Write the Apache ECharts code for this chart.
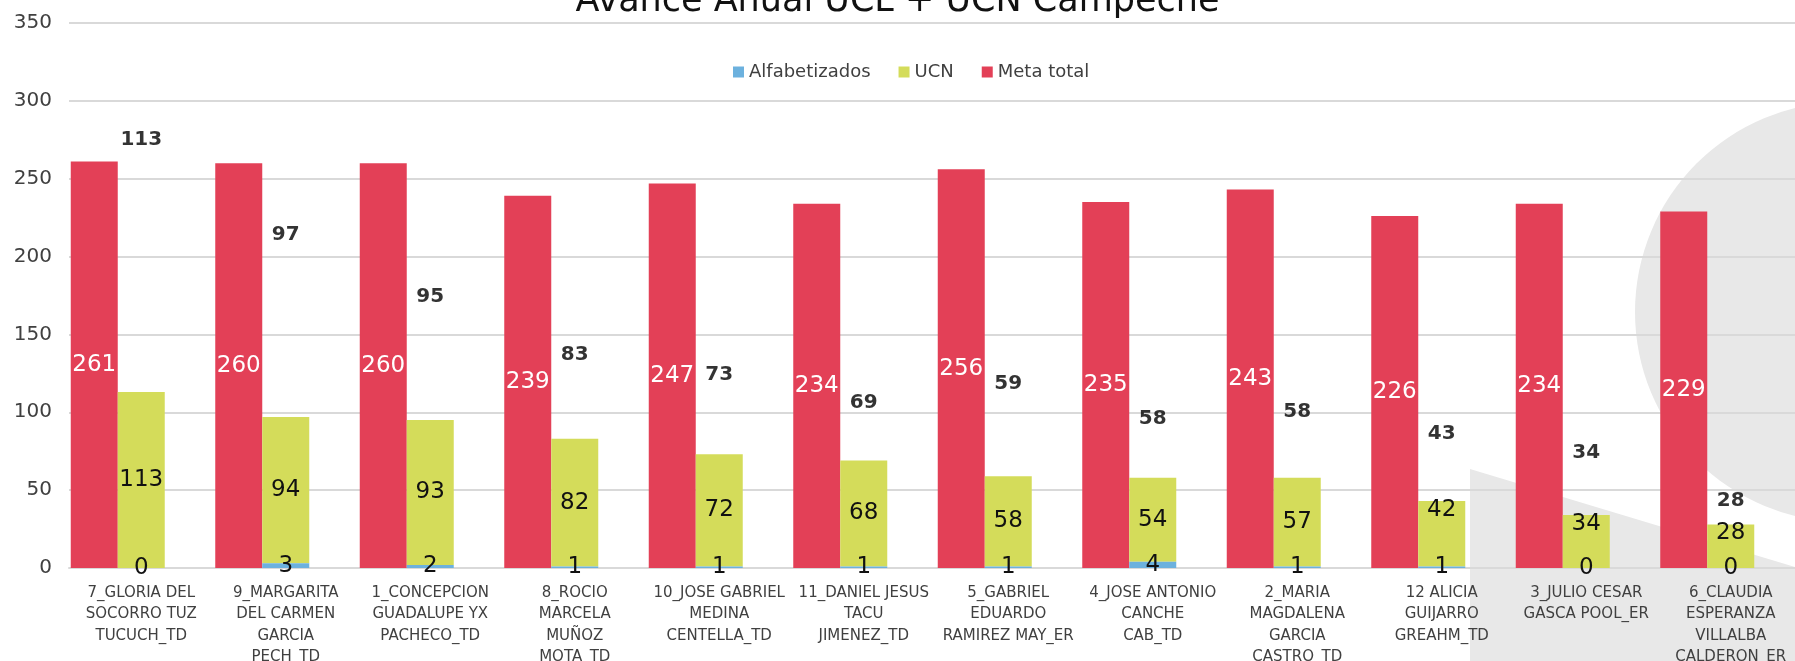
<!DOCTYPE html>
<html>
<head>
<meta charset="utf-8">
<title>Avance Anual UCL + UCN Campeche</title>
<script src="https://cdn.jsdelivr.net/npm/echarts@6/dist/echarts.min.js"></script>
<style>
  html, body { margin: 0; padding: 0; background: #fff; }
  #chart { width: 1795px; height: 661px; }
</style>
</head>
<body>
<div id="chart"></div>
<script>
// categorias (nombre del asesor)
var asesores = [
  '7_GLORIA DEL\nSOCORRO TUZ\nTUCUCH_TD',
  '9_MARGARITA\nDEL CARMEN\nGARCIA\nPECH_TD',
  '1_CONCEPCION\nGUADALUPE YX\nPACHECO_TD',
  '8_ROCIO\nMARCELA\nMUÑOZ\nMOTA_TD',
  '10_JOSE GABRIEL\nMEDINA\nCENTELLA_TD',
  '11_DANIEL JESUS\nTACU\nJIMENEZ_TD',
  '5_GABRIEL\nEDUARDO\nRAMIREZ MAY_ER',
  '4_JOSE ANTONIO\nCANCHE\nCAB_TD',
  '2_MARIA\nMAGDALENA\nGARCIA\nCASTRO_TD',
  '12 ALICIA\nGUIJARRO\nGREAHM_TD',
  '3_JULIO CESAR\nGASCA POOL_ER',
  '6_CLAUDIA\nESPERANZA\nVILLALBA\nCALDERON_ER'
]
var alfabetizados = [0, 3, 2, 1, 1, 1, 1, 4, 1, 1, 0, 0]
var ucn = [113, 94, 93, 82, 72, 68, 58, 54, 57, 42, 34, 28]
var metaTotal = [261, 260, 260, 239, 247, 234, 256, 235, 243, 226, 234, 229]
// altura (en unidades del eje) donde quedaron las etiquetas del total
var totalLabelAt = [275, 214, 174, 137, 124, 106, 118, 96, 100, 86, 74, 43]
var yTicks = { min: 0, max: 350, interval: 50 }

var totales = alfabetizados.map(function(v, i) { return v + ucn[i] })

var font = 'DejaVu Sans'
var chart = echarts.init(document.getElementById('chart'))

chart.setOption({
  backgroundColor: '#fff',
  animation: false,
  title: {
    text: 'Avance Anual UCL + UCN Campeche',
    left: 'center',
    top: -21,
    textStyle: { fontFamily: font, fontSize: 35, fontWeight: 'normal', color: '#111' }
  },
  legend: {
    data: ['Alfabetizados', 'UCN', 'Meta total'],
    left: 728,
    top: 58,
    icon: 'rect',
    itemWidth: 11,
    itemHeight: 11,
    itemGap: 28,
    textStyle: { fontFamily: font, fontSize: 18, color: '#404040' }
  },
  graphic: [
    {
      type: 'circle',
      z: -10,
      silent: true,
      shape: { cx: 1845, cy: 312, r: 210 },
      style: { fill: '#e8e8e8' }
    },
    {
      type: 'polygon',
      z: -10,
      silent: true,
      shape: { points: [[1470, 469], [1795, 567], [1795, 661], [1470, 661]] },
      style: { fill: '#e8e8e8' }
    }
  ],
  grid: {
    left: 69,
    top: 23,
    width: 1734,
    height: 545,
    containLabel: false,
    outerBoundsMode: 'none'
  },
  xAxis: {
    type: 'category',
    data: asesores,
    axisTick: { show: false },
    axisLine: { lineStyle: { color: '#d9d9d9', width: 2 } },
    axisLabel: {
      interval: 0,
      margin: 14,
      fontFamily: font,
      fontSize: 15,
      lineHeight: 21.5,
      color: '#404040'
    }
  },
  yAxis: {
    type: 'value',
    min: yTicks.min,
    max: yTicks.max,
    interval: yTicks.interval,
    axisLine: { show: false },
    axisTick: { show: false },
    splitLine: { lineStyle: { color: '#d9d9d9', width: 2 } },
    axisLabel: { margin: 17, fontFamily: font, fontSize: 20, color: '#404040' }
  },
  series: [
    {
      name: 'Meta total',
      type: 'bar',
      barWidth: 47,
      barGap: '0%',
      data: metaTotal,
      itemStyle: { color: '#e34057' },
      label: {
        show: true,
        position: 'inside',
        fontFamily: font,
        fontSize: 23,
        color: '#fff'
      }
    },
    {
      name: 'Alfabetizados',
      type: 'bar',
      stack: 'avance',
      barWidth: 47,
      data: alfabetizados,
      itemStyle: { color: '#6cb1de' },
      label: {
        show: true,
        position: 'inside',
        fontFamily: font,
        fontSize: 23,
        color: '#111'
      },
      z: 3
    },
    {
      name: 'UCN',
      type: 'bar',
      stack: 'avance',
      barWidth: 47,
      data: ucn.map(function(v) {
        // Excel sube las etiquetas de barras chicas
        return v < 45 ? { value: v, label: { position: 'insideTop', distance: -3 } } : v
      }),
      itemStyle: { color: '#d4dc5a' },
      label: {
        show: true,
        position: 'inside',
        fontFamily: font,
        fontSize: 23,
        color: '#111'
      }
    },
    {
      // espacio vacio a la derecha, como en el grafico original
      name: 'pad',
      type: 'bar',
      barWidth: 47,
      data: ucn.map(function() { return null })
    },
    {
      name: 'Total',
      type: 'scatter',
      symbolSize: 1,
      itemStyle: { color: 'rgba(0,0,0,0)' },
      data: totalLabelAt.map(function(v, i) { return [i, v] }),
      label: {
        show: true,
        position: 'inside',
        fontFamily: font,
        fontSize: 20,
        fontWeight: 'bold',
        color: '#000',
        formatter: function(p) { return totales[p.dataIndex] }
      },
      z: 5
    }
  ]
})
</script>
</body>
</html>
